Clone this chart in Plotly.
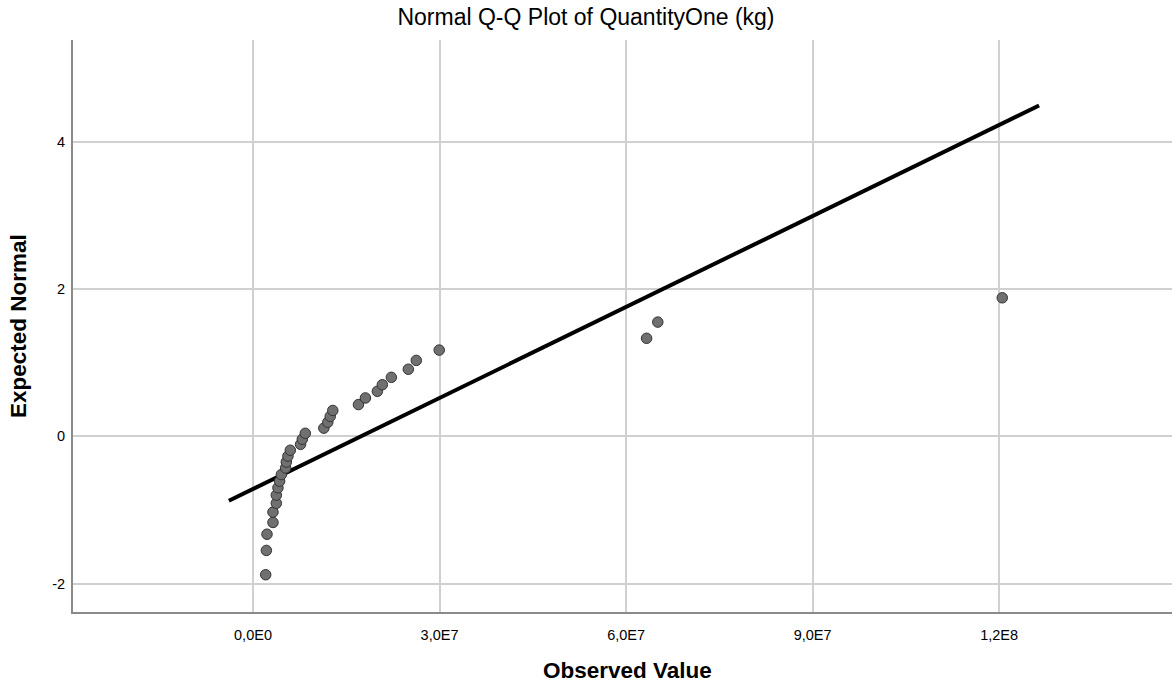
import numpy as np
import plotly.graph_objects as go

# ---- data ----
observed_millions = [2.04, 2.15, 2.25, 3.21, 3.21, 3.75, 3.75, 4.01, 4.28, 4.56,
                     5.25, 5.36, 5.62, 6.00, 7.65, 7.93, 8.41, 11.39, 12.03, 12.42,
                     12.83, 16.96, 18.08, 20.00, 20.80, 22.25, 24.98, 26.26, 29.95,
                     63.30, 65.10, 120.50]
expected_normal = [-1.88, -1.55, -1.33, -1.17, -1.03, -0.91, -0.80, -0.70, -0.61, -0.52,
                   -0.43, -0.35, -0.27, -0.19, -0.11, -0.04, 0.04, 0.11, 0.19, 0.27,
                   0.35, 0.43, 0.52, 0.61, 0.70, 0.80, 0.91, 1.03, 1.17,
                   1.33, 1.55, 1.88]
x_tickvals = [0, 3e7, 6e7, 9e7, 1.2e8]
x_ticktext = ["0,0E0", "3,0E7", "6,0E7", "9,0E7", "1,2E8"]
y_tickvals = [-2, 0, 2, 4]
y_ticktext = ["-2", "0", "2", "4"]

title_text = "Normal Q-Q Plot of QuantityOne (kg)"
x_title = "Observed Value"
y_title = "Expected Normal"

obs = np.array(observed_millions) * 1e6
mean = obs.mean()
sd = obs.std(ddof=1)
span = obs.max() - obs.min()
line_x = np.array([obs.min() - 0.05 * span, obs.max() + 0.05 * span])
line_y = (line_x - mean) / sd

FONT = "Arial, 'Liberation Sans', sans-serif"

fig = go.Figure()
fig.add_trace(go.Scatter(
    x=line_x, y=line_y, mode="lines",
    line=dict(color="black", width=4),
    hoverinfo="skip", showlegend=False))
fig.add_trace(go.Scatter(
    x=obs, y=expected_normal, mode="markers",
    marker=dict(size=10.5, color="#707070", line=dict(color="#333333", width=1)),
    showlegend=False))

fig.update_layout(
    width=1172, height=683,
    margin=dict(l=73, r=0, t=40, b=71),
    paper_bgcolor="white", plot_bgcolor="white",
    font=dict(family=FONT, color="black"),
    title=dict(text=title_text, x=0.5, xref="container", xanchor="center",
               y=1 - 17 / 683, yref="container", yanchor="middle",
               font=dict(family=FONT, size=23, color="black")),
    xaxis=dict(range=[-28.95e6, 147.8e6], tickvals=x_tickvals, ticktext=x_ticktext,
               showgrid=True, gridcolor="#d0d0d0", gridwidth=1.5,
               showline=True, linecolor="#8a8a8a", linewidth=2,
               zeroline=False, ticks="", tickfont=dict(size=14.5, color="black"),
               ticklabelstandoff=9),
    yaxis=dict(range=[-2.386, 5.38], tickvals=y_tickvals, ticktext=y_ticktext,
               showgrid=True, gridcolor="#d0d0d0", gridwidth=1.5,
               showline=True, linecolor="#8a8a8a", linewidth=2,
               zeroline=False, ticks="", tickfont=dict(size=14.5, color="black"),
               ticklabelstandoff=3),
    annotations=[
        dict(text=x_title, xref="paper", yref="paper", x=(627 - 73) / 1099,
             y=-(670 - 612) / 572, xanchor="center", yanchor="middle", showarrow=False,
             font=dict(family=FONT, size=22.5, color="black", weight="bold")),
        dict(text=y_title, xref="paper", yref="paper", x=(18 - 73) / 1099,
             y=0.5, xanchor="center", yanchor="middle", showarrow=False, textangle=-90,
             font=dict(family=FONT, size=22.5, color="black", weight="bold")),
    ],
)

fig.write_html("out.html")
